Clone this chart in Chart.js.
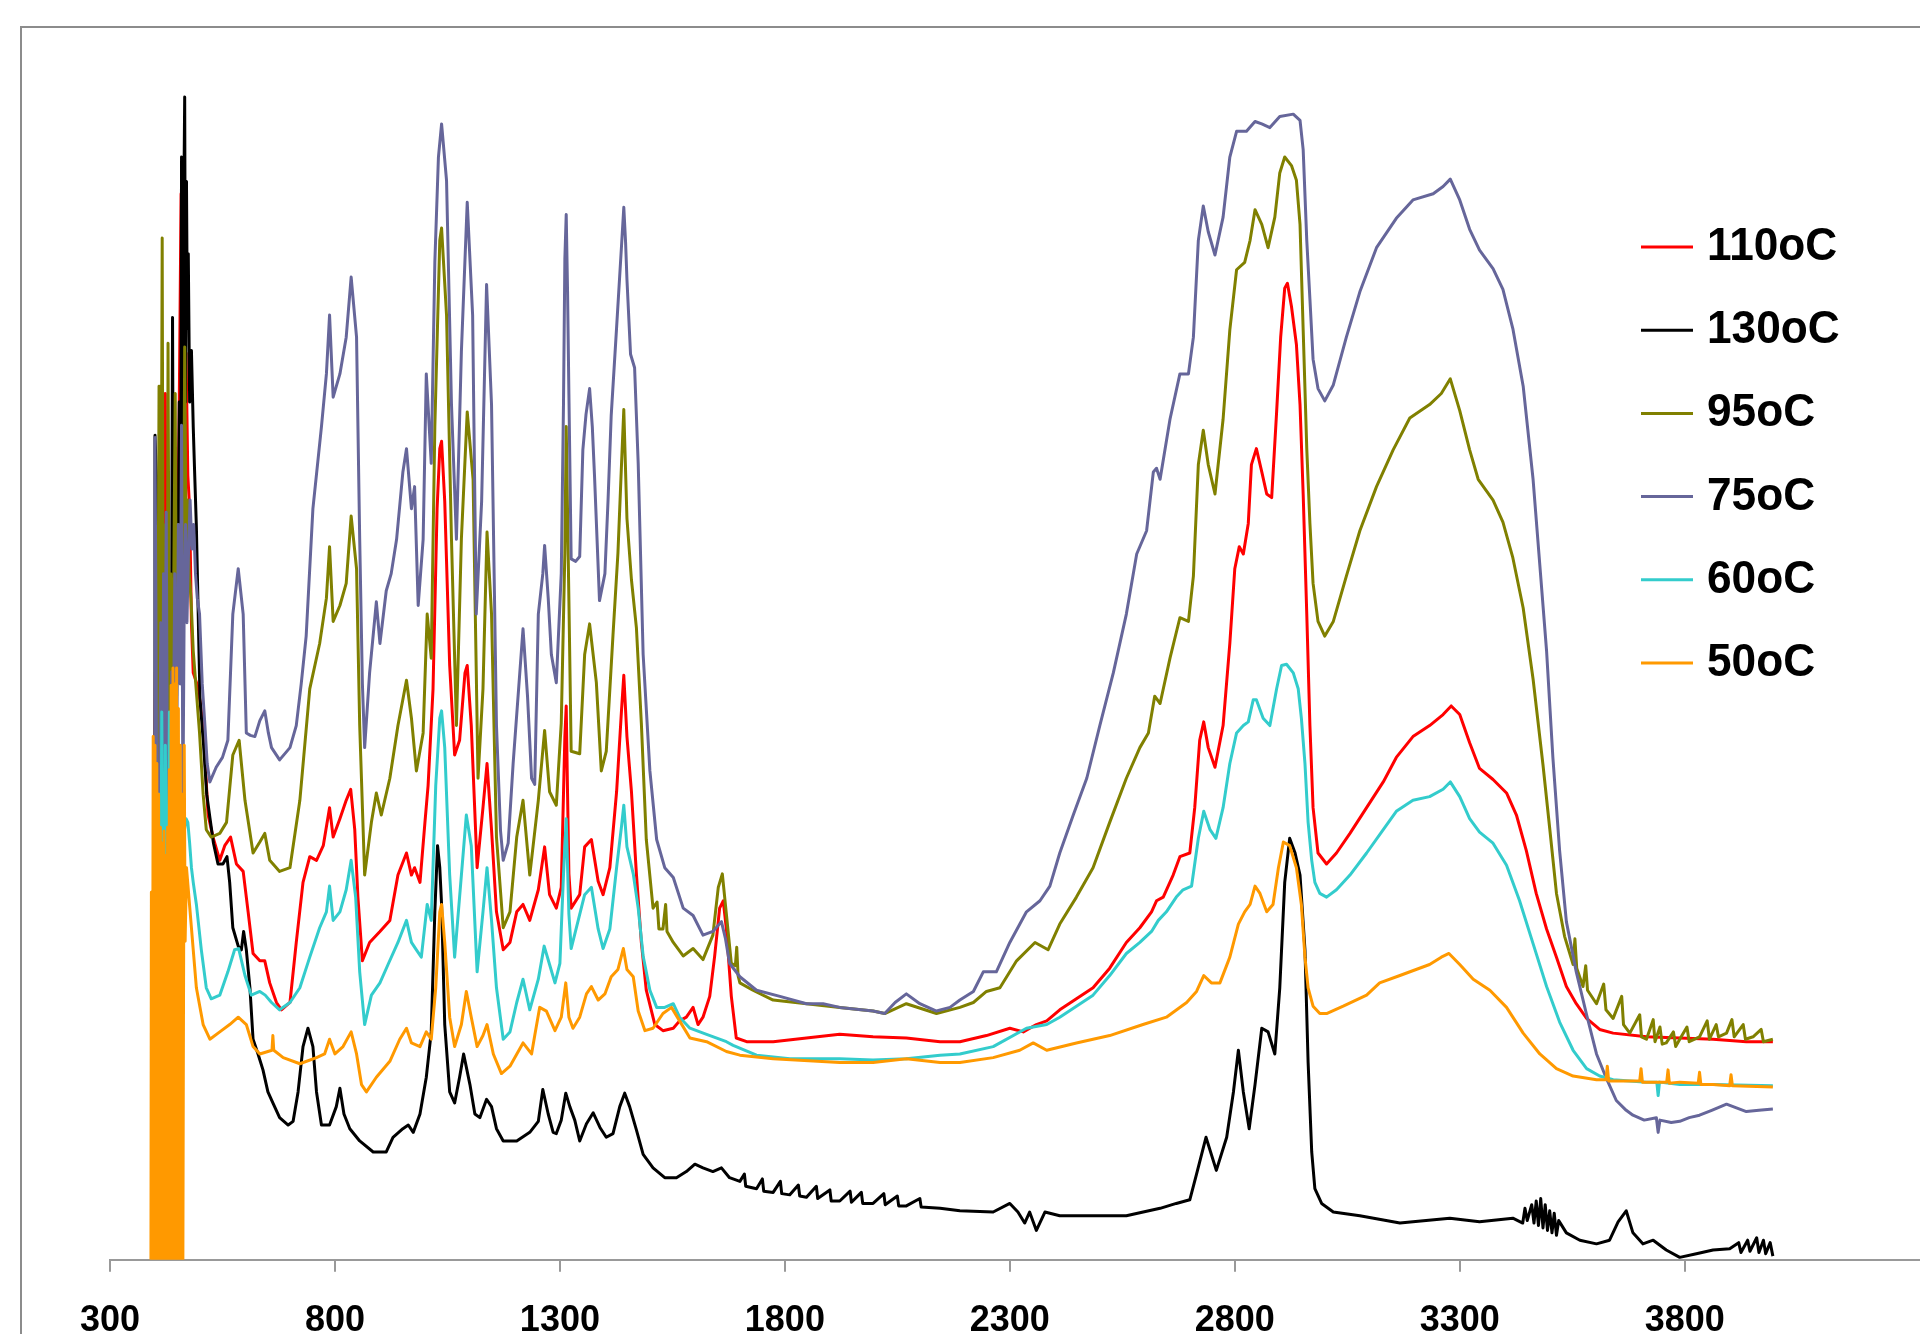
<!DOCTYPE html>
<html>
<head>
<meta charset="utf-8">
<script src="https://cdn.jsdelivr.net/npm/chart.js@4.4.0/dist/chart.umd.min.js"></script>
<style>
html, body { margin: 0; padding: 0; background: #fff; overflow: hidden; }
canvas { display: block; }
</style>
</head>
<body>
<canvas id="chart" width="1920" height="1371"></canvas>
<script>
// wavenumber ticks shown on the x axis
const xTicks = [300, 800, 1300, 1800, 2300, 2800, 3300, 3800];

const seriesLabels = ['110oC', '130oC', '95oC', '75oC', '60oC', '50oC'];
const seriesColors = ['#ff0000', '#000000', '#808000', '#66669a', '#33cccc', '#ff9900'];

// [wavenumber, absorbance (arbitrary units)]
const s110 = [[398,250],[401,480],[404,300],[408,420],[412,330],[416,400],[420,300],[423,707],[426,380],[430,300],[434,520],[438,400],[442,460],[446,520],[450,560],[454,700],[458,870],[461,650],[465,720],[469,740],[473,640],[477,613],[481,520],[485,479],[496,467],[507,436],[518,363],[529,345],[544,326],[555,338],[568,345],[581,323],[596,317],[607,284],[618,250],[633,244],[644,244],[655,226],[670,210],[681,204],[700,210],[714,259],[729,308],[744,329],[759,326],[774,338],[788,369],[796,345],[811,360],[825,375],[835,384],[844,351],[851,296],[861,244],[877,259],[900,268],[922,277],[940,314],[959,332],[970,314],[977,320],[989,308],[1000,357],[1007,387],[1018,466],[1027,613],[1033,662],[1037,668],[1044,619],[1055,485],[1066,412],[1077,424],[1089,479],[1094,485],[1103,436],[1116,320],[1129,369],[1138,405],[1148,351],[1159,284],[1174,253],[1189,259],[1204,284],[1218,290],[1233,277],[1252,302],[1266,337],[1277,298],[1292,287],[1303,304],[1311,427],[1314,452],[1317,380],[1320,315],[1325,287],[1344,298],[1355,337],[1370,343],[1385,309],[1396,298],[1411,320],[1426,382],[1437,449],[1442,477],[1449,427],[1459,382],[1470,315],[1481,259],[1492,220],[1511,192],[1529,187],[1552,189],[1566,195],[1581,198],[1596,206],[1607,192],[1618,198],[1633,215],[1644,248],[1655,287],[1663,293],[1670,270],[1681,215],[1692,181],[1715,178],[1774,178],[1848,181],[1922,184],[1996,182],[2070,181],[2145,178],[2189,178],[2248,183],[2300,189],[2330,186],[2359,192],[2382,195],[2411,204],[2448,213],[2485,222],[2522,238],[2559,259],[2589,271],[2615,284],[2626,293],[2641,296],[2663,314],[2678,329],[2700,332],[2711,369],[2722,424],[2731,439],[2741,418],[2756,402],[2774,436],[2789,503],[2800,564],[2810,582],[2819,576],[2830,601],[2837,649],[2848,662],[2860,643],[2871,625],[2882,622],[2893,692],[2902,753],[2911,793],[2917,797],[2926,778],[2937,747],[2945,698],[2952,625],[2960,527],[2967,436],[2974,369],[2985,332],[3004,323],[3026,332],[3056,348],[3093,369],[3130,390],[3159,410],[3196,427],[3233,436],[3263,445],[3281,452],[3300,445],[3322,422],[3344,401],[3374,392],[3404,381],[3426,363],[3448,334],[3470,299],[3493,270],[3515,247],[3537,223],[3559,209],[3582,197],[3611,188],[3641,185],[3715,182],[3789,181],[3863,180],[3937,178],[3996,178]];

const s130 = [[398,80],[400,673],[403,640],[405,200],[409,380],[413,300],[417,520],[421,330],[425,600],[429,380],[433,560],[436,420],[439,769],[442,460],[446,620],[450,500],[454,700],[457,560],[459,900],[462,650],[464,860],[466,949],[468,700],[470,880],[472,760],[474,821],[477,700],[481,742],[485,680],[488,644],[492,598],[500,458],[508,420],[515,380],[522,361],[530,340],[540,323],[551,323],[560,329],[566,308],[573,271],[585,256],[592,253],[597,268],[603,253],[611,222],[618,180],[629,168],[640,155],[651,137],[662,128],[677,116],[696,110],[707,113],[718,137],[729,174],[740,189],[751,174],[759,137],[770,110],[788,110],[803,125],[811,140],[820,119],[833,107],[855,97],[885,88],[914,88],[929,100],[951,107],[963,110],[974,104],[989,119],[1003,149],[1014,186],[1022,284],[1028,338],[1033,320],[1037,290],[1044,192],[1055,137],[1066,128],[1077,149],[1086,168],[1100,143],[1111,119],[1122,116],[1137,131],[1148,125],[1159,107],[1174,97],[1204,97],[1233,104],[1252,113],[1262,139],[1274,119],[1285,104],[1292,103],[1303,114],[1313,136],[1322,125],[1333,114],[1344,97],[1359,111],[1374,120],[1389,108],[1403,100],[1418,103],[1433,125],[1444,136],[1455,125],[1470,106],[1485,86],[1507,75],[1533,67],[1559,67],[1581,72],[1600,78],[1618,75],[1640,72],[1659,75],[1677,67],[1700,64],[1710,70],[1713,60],[1737,58],[1750,66],[1753,56],[1774,55],[1790,64],[1793,54],[1811,53],[1830,61],[1833,52],[1848,51],[1870,60],[1873,50],[1900,57],[1903,48],[1922,48],[1945,56],[1948,47],[1970,55],[1973,46],[1996,46],[2020,54],[2023,45],[2050,52],[2053,44],[2070,44],[2100,50],[2103,43],[2145,42],[2189,40],[2263,39],[2300,46],[2318,39],[2333,30],[2344,39],[2359,24],[2378,39],[2411,36],[2485,36],[2559,36],[2634,42],[2670,46],[2700,49],[2715,70],[2736,100],[2759,73],[2782,100],[2797,137],[2808,171],[2819,137],[2832,107],[2845,143],[2860,189],[2874,186],[2889,168],[2900,222],[2911,308],[2922,344],[2934,332],[2945,314],[2956,253],[2963,161],[2971,88],[2978,58],[2993,46],[3019,39],[3078,36],[3167,30],[3196,31],[3278,34],[3344,31],[3418,34],[3440,30],[3445,42],[3450,32],[3460,45],[3465,30],[3470,48],[3475,28],[3480,50],[3485,26],[3490,45],[3495,24],[3500,40],[3505,22],[3510,38],[3515,20],[3520,32],[3537,22],[3567,16],[3604,13],[3633,16],[3652,31],[3670,40],[3685,22],[3707,13],[3730,16],[3759,8],[3789,2],[3826,5],[3863,8],[3900,9],[3920,14],[3925,6],[3940,16],[3945,7],[3960,18],[3965,6],[3975,16],[3980,5],[3990,14],[3996,3]];

const s95 = [[397,220],[400,350],[403,290],[406,420],[409,713],[411,480],[414,600],[416,834],[418,520],[421,420],[424,600],[427,380],[429,748],[432,430],[435,560],[438,390],[441,520],[445,707],[448,460],[452,600],[456,480],[460,640],[463,520],[466,745],[469,580],[472,620],[476,560],[480,540],[485,497],[499,430],[507,380],[514,351],[525,345],[544,348],[559,357],[573,412],[587,424],[600,375],[618,332],[633,341],[644,348],[655,326],[677,317],[700,320],[722,375],[744,466],[766,503],[781,540],[788,582],[796,521],[811,534],[825,552],[836,607],[848,564],[855,436],[866,314],[881,357],[892,381],[903,363],[922,393],[940,436],[959,473],[970,442],[981,399],[996,430],[1005,527],[1014,491],[1022,680],[1033,832],[1037,842],[1048,771],[1059,588],[1070,436],[1081,588],[1094,692],[1107,637],[1118,393],[1129,466],[1138,594],[1148,527],[1159,345],[1174,271],[1189,284],[1204,345],[1218,375],[1233,314],[1252,375],[1266,432],[1277,382],[1292,371],[1303,438],[1311,577],[1314,680],[1320,538],[1325,415],[1344,413],[1355,494],[1366,519],[1381,471],[1392,399],[1403,415],[1418,510],[1429,577],[1437,650],[1442,694],[1449,605],[1459,555],[1470,516],[1481,438],[1492,343],[1507,287],[1516,292],[1520,270],[1529,270],[1535,290],[1538,268],[1552,259],[1574,248],[1596,254],[1618,245],[1640,265],[1652,304],[1661,315],[1670,282],[1681,242],[1690,240],[1693,255],[1696,232],[1700,226],[1729,220],[1774,212],[1848,209],[1922,206],[1996,203],[2022,201],[2070,209],[2137,201],[2189,206],[2219,210],[2248,219],[2278,222],[2315,244],[2356,259],[2385,253],[2411,274],[2448,296],[2485,320],[2522,357],[2559,393],[2589,418],[2608,430],[2622,460],[2634,454],[2656,491],[2678,524],[2697,521],[2708,558],[2719,649],[2730,677],[2741,649],[2756,625],[2774,686],[2789,759],[2804,808],[2822,814],[2834,832],[2845,857],[2860,845],[2874,826],[2889,851],[2900,887],[2911,900],[2926,893],[2937,881],[2945,845],[2952,759],[2960,662],[2967,601],[2974,552],[2985,521],[3000,509],[3019,521],[3048,558],[3078,595],[3115,631],[3152,661],[3189,687],[3233,698],[3259,707],[3279,719],[3300,693],[3322,661],[3341,637],[3374,620],[3396,602],[3418,573],[3441,532],[3463,474],[3485,404],[3500,352],[3515,299],[3533,264],[3552,241],[3556,262],[3560,238],[3574,223],[3580,240],[3584,220],[3604,209],[3620,225],[3625,204],[3641,197],[3660,215],[3664,192],[3678,185],[3700,200],[3704,182],[3715,180],[3730,196],[3734,178],[3745,190],[3750,176],[3759,177],[3775,186],[3780,174],[3789,180],[3805,190],[3810,178],[3833,182],[3850,195],[3855,180],[3870,192],[3875,182],[3893,185],[3905,196],[3910,182],[3930,192],[3935,180],[3952,182],[3970,188],[3975,178],[3996,180]];

const s75 = [[398,420],[400,671],[402,540],[405,260],[408,98],[410,380],[413,520],[416,300],[419,560],[422,420],[425,610],[428,350],[431,240],[434,222],[437,480],[440,380],[444,560],[448,400],[452,600],[456,470],[459,681],[462,368],[465,540],[468,600],[471,520],[474,571],[478,620],[482,580],[486,600],[490,560],[494,540],[499,527],[505,470],[511,436],[516,405],[522,390],[536,402],[550,410],[562,424],[573,527],[585,564],[596,527],[603,430],[612,428],[622,427],[633,440],[644,448],[652,430],[659,418],[677,408],[700,418],[714,436],[725,470],[736,509],[751,613],[770,680],[781,723],[788,771],[796,704],[811,723],[825,753],[836,802],[848,753],[855,588],[861,470],[866,418],[877,479],[892,537],[900,503],[914,546],[925,560],[937,588],[951,643],[959,662],[970,613],[977,631],[985,534],[996,588],[1003,723],[1008,690],[1014,650],[1022,814],[1030,900],[1037,927],[1048,881],[1059,698],[1070,588],[1081,741],[1094,863],[1106,771],[1114,527],[1126,619],[1137,796],[1148,698],[1159,436],[1168,350],[1174,326],[1185,340],[1196,405],[1218,515],[1228,460],[1237,393],[1244,388],[1252,527],[1262,560],[1266,583],[1274,540],[1281,494],[1292,471],[1303,560],[1308,700],[1311,817],[1314,853],[1317,790],[1320,706],[1325,572],[1335,570],[1344,574],[1351,661],[1358,690],[1366,711],[1372,680],[1377,639],[1388,538],[1400,560],[1407,620],[1414,689],[1426,761],[1437,828],[1442,859],[1446,830],[1449,800],[1457,739],[1466,728],[1474,650],[1485,494],[1500,399],[1515,343],[1533,320],[1552,312],[1574,287],[1596,281],[1618,265],[1640,268],[1659,276],[1668,262],[1677,242],[1700,231],[1737,220],[1789,215],[1848,209],[1885,209],[1922,206],[1996,203],[2022,201],[2045,210],[2070,217],[2100,209],[2137,203],[2167,206],[2189,212],[2219,219],[2241,235],[2270,235],[2300,259],[2337,284],[2367,293],[2389,305],[2411,332],[2441,363],[2471,393],[2500,436],[2530,479],[2559,527],[2582,576],[2604,595],[2619,643],[2626,646],[2634,637],[2656,686],[2678,723],[2697,723],[2708,753],[2719,832],[2730,860],[2741,839],[2756,820],[2774,851],[2789,900],[2804,921],[2826,921],[2845,929],[2860,927],[2878,924],[2900,933],[2930,935],[2945,930],[2952,906],[2960,832],[2967,784],[2974,735],[2985,711],[3000,701],[3019,714],[3048,753],[3078,790],[3115,826],[3159,850],[3196,865],[3241,870],[3263,876],[3279,882],[3300,865],[3322,841],[3344,824],[3374,809],[3396,792],[3418,760],[3441,713],[3463,637],[3478,567],[3493,497],[3507,410],[3522,334],[3537,276],[3559,235],[3582,200],[3604,168],[3626,148],[3648,130],[3670,122],[3685,118],[3710,114],[3737,116],[3741,104],[3745,114],[3770,112],[3789,113],[3810,116],[3833,118],[3860,122],[3893,127],[3915,124],[3937,121],[3965,122],[3996,123]];

const s60 = [[398,200],[401,300],[404,230],[407,330],[410,380],[413,260],[415,447],[418,300],[421,260],[423,420],[426,300],[429,240],[432,447],[435,330],[438,280],[441,360],[445,250],[449,330],[453,270],[457,380],[461,300],[465,350],[469,360],[473,357],[477,340],[481,320],[485,308],[492,290],[503,253],[514,222],[525,213],[544,216],[562,235],[577,253],[586,254],[600,232],[614,216],[633,219],[645,216],[659,210],[677,204],[700,210],[722,222],[744,247],[766,271],[781,284],[788,305],[796,277],[811,284],[825,302],[836,326],[846,296],[855,235],[866,192],[881,216],[900,226],[918,241],[940,259],[959,277],[970,259],[981,253],[992,247],[1005,290],[1014,277],[1024,387],[1033,442],[1037,448],[1044,418],[1055,314],[1066,247],[1077,296],[1092,363],[1103,338],[1116,235],[1129,284],[1138,320],[1148,277],[1159,222],[1174,180],[1189,186],[1204,210],[1218,229],[1233,204],[1252,229],[1265,256],[1277,241],[1289,226],[1300,242],[1308,315],[1314,360],[1320,282],[1325,254],[1344,282],[1355,298],[1370,304],[1385,270],[1396,254],[1411,270],[1426,320],[1437,354],[1442,371],[1449,337],[1463,315],[1474,287],[1485,248],[1500,220],[1515,206],[1533,206],[1552,209],[1566,198],[1589,189],[1626,184],[1670,178],[1685,175],[1737,167],[1811,164],[1922,164],[1996,163],[2070,164],[2145,167],[2189,168],[2263,174],[2337,189],[2382,192],[2411,198],[2448,207],[2485,216],[2522,232],[2559,250],[2589,259],[2615,268],[2630,277],[2648,284],[2670,296],[2685,302],[2704,305],[2719,344],[2731,366],[2745,351],[2758,344],[2774,369],[2789,405],[2804,430],[2819,436],[2830,439],[2841,457],[2848,457],[2863,442],[2878,436],[2893,466],[2904,485],[2915,486],[2930,479],[2941,466],[2948,442],[2956,405],[2963,357],[2971,326],[2978,308],[2989,299],[3004,296],[3026,302],[3056,314],[3093,332],[3130,351],[3159,366],[3196,375],[3233,378],[3263,384],[3279,390],[3300,378],[3322,360],[3344,349],[3374,340],[3404,322],[3433,293],[3463,258],[3493,223],[3522,194],[3552,171],[3582,156],[3611,150],[3641,147],[3715,145],[3738,145],[3741,134],[3744,145],[3789,143],[3863,143],[3996,142]];

const s50 = [[391,0],[392,300],[394,0],[396,427],[398,0],[400,420],[402,0],[404,405],[406,0],[408,380],[410,0],[412,353],[414,0],[416,340],[418,0],[420,350],[422,0],[424,330],[426,0],[428,353],[430,0],[432,400],[434,0],[436,469],[438,0],[440,483],[442,0],[444,470],[446,0],[448,483],[450,0],[452,450],[454,0],[456,420],[458,0],[460,380],[462,0],[463,160],[465,420],[467,260],[470,320],[485,253],[492,222],[507,192],[522,180],[544,186],[566,192],[585,198],[603,192],[618,174],[633,168],[660,171],[662,183],[664,171],[685,165],[722,160],[759,165],[777,168],[788,180],[800,168],[818,174],[836,186],[848,168],[859,143],[870,137],[892,149],[922,162],[944,180],[959,189],[970,177],[989,174],[1003,186],[1014,180],[1024,222],[1033,284],[1037,290],[1044,259],[1055,198],[1066,174],[1081,192],[1092,219],[1103,198],[1116,174],[1129,183],[1138,192],[1152,168],[1170,152],[1189,158],[1218,177],[1237,168],[1245,185],[1255,206],[1270,203],[1289,187],[1303,198],[1313,226],[1320,198],[1329,189],[1344,198],[1359,217],[1370,223],[1385,212],[1400,217],[1414,231],[1429,237],[1441,254],[1449,237],[1463,231],[1474,203],[1489,187],[1507,189],[1529,201],[1548,206],[1566,195],[1589,181],[1626,178],[1670,170],[1700,167],[1774,164],[1922,161],[1996,161],[2070,164],[2145,161],[2189,161],[2263,165],[2322,171],[2352,177],[2382,171],[2448,177],[2522,183],[2596,192],[2648,198],[2693,210],[2715,219],[2731,232],[2748,226],[2767,226],[2789,247],[2808,274],[2822,284],[2834,290],[2845,305],[2856,299],[2871,284],[2885,290],[2897,320],[2908,341],[2922,338],[2937,320],[2948,290],[2956,247],[2963,222],[2974,207],[2989,201],[3004,201],[3041,207],[3093,216],[3122,226],[3167,232],[3233,241],[3259,247],[3276,250],[3300,241],[3330,229],[3367,220],[3404,206],[3441,185],[3478,168],[3515,156],[3552,150],[3604,147],[3625,147],[3628,158],[3631,146],[3678,146],[3700,146],[3703,156],[3706,145],[3760,145],[3763,155],[3766,144],[3789,145],[3830,144],[3833,153],[3836,143],[3863,143],[3900,142],[3903,151],[3906,142],[3996,141]];

const seriesData = [s110, s130, s95, s75, s60, s50];

// white page with the thin grey frame of the chart box
const frame = {
    id: 'frame',
    beforeDraw(chart) {
        const ctx = chart.ctx;
        ctx.save();
        ctx.fillStyle = '#ffffff';
        ctx.fillRect(0, 0, chart.width, chart.height);
        ctx.strokeStyle = '#8c8c8c';
        ctx.lineWidth = 2;
        ctx.strokeRect(21, 27, 1940, 1400);
        ctx.restore();
    }
};

// legend on the right, drawn over the plot like in the original
const sideLegend = {
    id: 'sideLegend',
    afterDraw(chart) {
        const ctx = chart.ctx;
        ctx.save();
        chart.data.datasets.forEach((ds, i) => {
            const y = 247 + i * 83.2;
            ctx.strokeStyle = ds.borderColor;
            ctx.lineWidth = 3;
            ctx.beginPath();
            ctx.moveTo(1641, y);
            ctx.lineTo(1693, y);
            ctx.stroke();
            ctx.save();
            ctx.translate(1707, y);
            ctx.scale(0.94, 1);
            ctx.fillStyle = '#000';
            ctx.font = 'bold 47px "Liberation Sans", Arial, sans-serif';
            ctx.textBaseline = 'middle';
            ctx.fillText(ds.label, 0, 0);
            ctx.restore();
        });
        ctx.restore();
    }
};

const CHART = document.getElementById('chart');

const chart = new Chart(CHART, {
    type: 'line',
    data: {
        datasets: seriesData.map((d, i) => ({
            label: seriesLabels[i],
            data: d,
            borderColor: seriesColors[i],
            backgroundColor: seriesColors[i],
            borderWidth: 3,
            borderJoinStyle: 'round',
            pointRadius: 0,
            fill: false,
            tension: 0,
            order: seriesData.length - 1 - i
        }))
    },
    options: {
        responsive: false,
        animation: false,
        devicePixelRatio: 1,
        layout: { padding: { left: 110, top: 59, right: 0, bottom: 0 } },
        plugins: {
            legend: { display: false },
            tooltip: { enabled: false }
        },
        scales: {
            x: {
                type: 'linear',
                min: 300,
                max: 4323,
                afterBuildTicks: (scale) => { scale.ticks = xTicks.map(v => ({ value: v })); },
                grid: { drawOnChartArea: false, drawTicks: true, tickLength: 12, color: '#999999', lineWidth: 2 },
                border: { display: true, color: '#999999', width: 2 },
                ticks: {
                    color: '#000',
                    autoSkip: false,
                    maxRotation: 0,
                    padding: 28,
                    font: { family: '"Liberation Sans Narrow", "Liberation Sans", sans-serif', size: 36, weight: 'bold', lineHeight: 1.2 },
                    callback: (v) => String(v)
                }
            },
            y: { display: false, min: 0, max: 980 }
        }
    },
    plugins: [frame, sideLegend]
});
</script>
</body>
</html>
